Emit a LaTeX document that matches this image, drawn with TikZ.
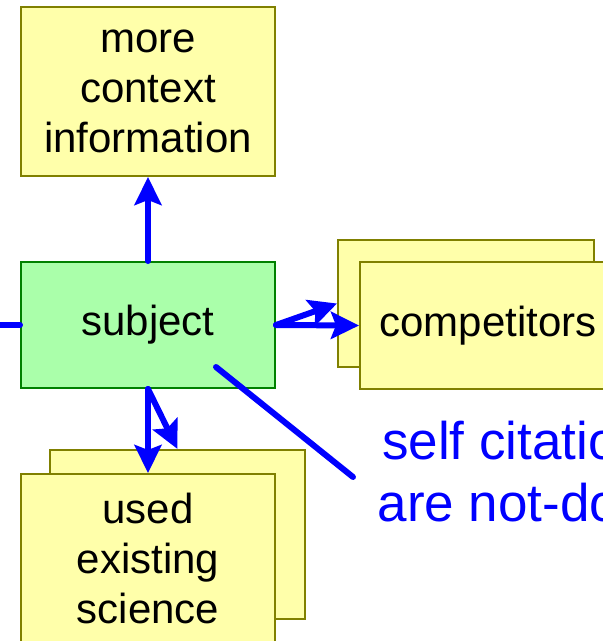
\documentclass[tikz,border=0pt]{standalone}
\usepackage{fontspec}
\setmainfont{Liberation Sans}
\usetikzlibrary{arrows.meta}
\definecolor{paleyellow}{RGB}{255,255,170}
\definecolor{boxrim}{RGB}{128,128,0}
\definecolor{palegreen}{RGB}{170,255,170}
\definecolor{darkgreen}{RGB}{0,128,0}
\tikzset{
	>={Stealth[length=28pt,width=27pt,inset=5pt]}, % big blue arrow heads
	box/.style={draw=boxrim, fill=paleyellow, line width=2pt, align=center, inner sep=0pt,
		font=\fontsize{42}{50}\selectfont}, % yellow topic boxes
	subjectbox/.style={box, draw=darkgreen, fill=palegreen}, % the green box in the middle
	link/.style={blue, line width=6pt, line cap=round}, % blue connectors
	remark/.style={blue, align=center, inner sep=0pt, font=\fontsize{53}{62}\selectfont}, % blue note text
}

\begin{document}
\begin{tikzpicture}[x=1pt, y=-1pt]
	\useasboundingbox (0,0) rectangle (603,641);
	\clip (0,0) rectangle (603,641);
	% boxes
	\node[box, minimum width=254, minimum height=169] (info) at (148,91.5) {more\\context\\information};
	\node[subjectbox, minimum width=254, minimum height=126] (subject) at (148,325) {subject};
	\node[box, minimum width=256, minimum height=127] (compback) at (466,303.5) {};
	\node[box, minimum width=256, minimum height=127] (comp) at (488,325.5) {competitors};
	\node[box, minimum width=255, minimum height=169] (usedback) at (177.5,534.5) {};
	\node[box, minimum width=254, minimum height=169] (used) at (148,558.5) {used\\existing\\science};
	\node[remark] (note) at (528,472) {self citations\\are not-done};
	\coordinate (offleft) at (0,325);
	\coordinate (pin) at (216,367);
	\coordinate (pinend) at (353,477);
	% connectors
	\draw[link] (offleft) -- (subject.west);
	\draw[link, ->] (subject.north) -- (info.south);
	\draw[link, ->] (subject.east) -- (compback.west);
	\draw[link, ->] (subject.east) -- (comp.west);
	\draw[link, ->] (subject.south) -- (usedback.north);
	\draw[link, ->] (subject.south) -- (used.north);
	\draw[link] (pin) -- (pinend);
\end{tikzpicture}
\end{document}
